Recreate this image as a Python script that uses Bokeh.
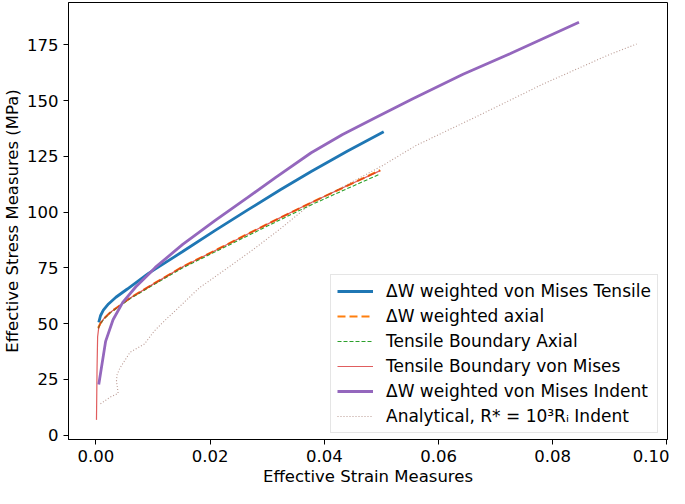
from bokeh.plotting import figure
from bokeh.models import Legend, LegendItem, FixedTicker, NumeralTickFormatter, Range1d
from bokeh.embed import file_html
from bokeh.resources import INLINE

# ---- data ----
vm_tensile_x = [0.0005, 0.0008, 0.0013, 0.0022, 0.0035, 0.0055, 0.0092, 0.0152, 0.0209, 0.0266, 0.0323, 0.0377, 0.0440, 0.0504]
vm_tensile_y = [50.5, 53.5, 56.0, 58.8, 61.8, 65.5, 72.5, 82.3, 91.8, 101.0, 110.0, 118.2, 127.3, 136.0]

axial_x = [0.0004, 0.0008, 0.0015, 0.0025, 0.0038, 0.0060, 0.0095, 0.0152, 0.0209, 0.0266, 0.0323, 0.0380, 0.0440, 0.0498]
axial_y = [48.0, 50.2, 52.5, 55.0, 57.4, 61.5, 66.9, 75.5, 82.8, 90.2, 97.5, 104.6, 111.8, 118.8]

tb_axial_x = [0.0004, 0.0008, 0.0015, 0.0025, 0.0038, 0.0060, 0.0095, 0.0152, 0.0209, 0.0266, 0.0323, 0.0380, 0.0440, 0.0497]
tb_axial_y = [47.8, 50.0, 52.3, 54.8, 57.2, 61.2, 66.5, 75.0, 82.2, 89.4, 96.6, 103.6, 110.5, 117.0]

tb_vm_x = [0.0001, 0.0002, 0.0003, 0.0005, 0.0008, 0.0015, 0.0025, 0.0038, 0.0060, 0.0095, 0.0152, 0.0209, 0.0266, 0.0323, 0.0380, 0.0440, 0.0498]
tb_vm_y = [6.8, 30.0, 44.0, 48.3, 50.2, 52.5, 55.0, 57.4, 61.5, 66.9, 75.5, 82.8, 90.2, 97.5, 104.6, 111.8, 118.6]

vm_indent_x = [0.0005, 0.0017, 0.0030, 0.0047, 0.0070, 0.0095, 0.0104, 0.0152, 0.0209, 0.0266, 0.0315, 0.0377, 0.0432, 0.0491, 0.0555, 0.0643, 0.0726, 0.0846]
vm_indent_y = [22.7, 42.0, 51.7, 59.5, 66.5, 72.8, 75.2, 85.5, 96.3, 106.6, 115.6, 126.6, 134.8, 142.5, 150.8, 161.8, 171.1, 185.1]

analytical_x = [0.0008, 0.0025, 0.0039, 0.0036, 0.0037, 0.0042, 0.0060, 0.0085, 0.0102, 0.0122, 0.0140, 0.0181, 0.0238, 0.0277, 0.0323, 0.0377, 0.0434, 0.0503, 0.0560, 0.0668, 0.0782, 0.0896, 0.0947]
analytical_y = [14.0, 17.0, 18.7, 24.2, 27.0, 30.0, 37.2, 40.8, 46.6, 51.7, 56.0, 66.0, 76.3, 83.5, 92.5, 103.8, 111.5, 121.0, 129.8, 143.0, 157.3, 170.3, 175.4]

x_ticks = [0.0, 0.02, 0.04, 0.06, 0.08, 0.10]
y_ticks = [0, 25, 50, 75, 100, 125, 150, 175]

labels = [
    "\u0394W weighted von Mises Tensile",
    "\u0394W weighted axial",
    "Tensile Boundary Axial",
    "Tensile Boundary von Mises",
    "\u0394W weighted von Mises Indent",
    "Analytical, R* = 10\u00b3R\u1d62 Indent",
]

FONT = "DejaVu Sans"
FS = "16.5px"

p = figure(width=669, height=488, output_backend="svg", toolbar_location=None,
           x_range=Range1d(-0.0048, 0.1001), y_range=Range1d(-2, 194),
           min_border_left=61, min_border_right=2, min_border_top=2, min_border_bottom=49,
           background_fill_color="white", border_fill_color="white")

p.xgrid.visible = False
p.ygrid.visible = False
p.outline_line_color = "black"
p.outline_line_width = 1

r1 = p.line(vm_tensile_x, vm_tensile_y, line_color="#1f77b4", line_width=2.8)
r2 = p.line(axial_x, axial_y, line_color="#ff7f0e", line_width=2.2, line_dash="8 4")
r3 = p.line(tb_axial_x, tb_axial_y, line_color="#2ca02c", line_width=1.1, line_dash="4 2")
r4 = p.line(tb_vm_x, tb_vm_y, line_color="#d62728", line_width=1.2, line_alpha=0.75)
r5 = p.line(vm_indent_x, vm_indent_y, line_color="#9467bd", line_width=2.8)
r6 = p.line(analytical_x, analytical_y, line_color="#8c564b", line_width=1.1, line_dash="1 2", line_alpha=0.6)

p.xaxis.ticker = FixedTicker(ticks=x_ticks)
p.yaxis.ticker = FixedTicker(ticks=y_ticks)
p.xaxis.formatter = NumeralTickFormatter(format="0.00")
p.xaxis.axis_label = "Effective Strain Measures"
p.yaxis.axis_label = "Effective Stress Measures (MPa)"

for ax in p.axis:
    ax.axis_line_color = "black"
    ax.major_tick_line_color = "black"
    ax.major_tick_out = 5
    ax.major_tick_in = 0
    ax.minor_tick_line_color = None
    ax.major_label_text_font = FONT
    ax.major_label_text_font_size = FS
    ax.major_label_text_color = "black"
    ax.major_label_standoff = 5
    ax.axis_label_text_font = FONT
    ax.axis_label_text_font_size = FS
    ax.axis_label_text_font_style = "normal"
    ax.axis_label_text_color = "black"
    ax.axis_label_standoff = 2

legend = Legend(
    items=[LegendItem(label=lab, renderers=[r]) for lab, r in zip(labels, [r1, r2, r3, r4, r5, r6])],
    location=(262, 6),
    label_text_font=FONT, label_text_font_size="17px", label_text_color="black",
    glyph_width=36, glyph_height=20, label_height=20, spacing=5,
    padding=6, margin=0, label_standoff=13,
    border_line_color="#cccccc", border_line_width=1,
    background_fill_color="white", background_fill_alpha=0.8,
)
p.add_layout(legend)

open("out.html", "w").write(file_html(p, INLINE))
